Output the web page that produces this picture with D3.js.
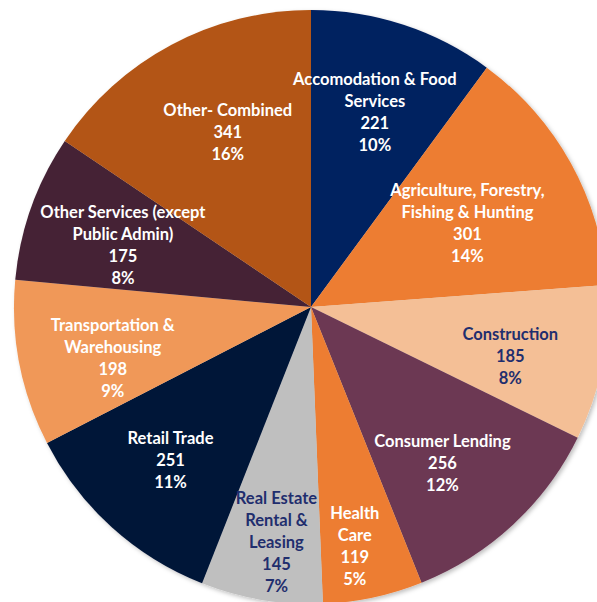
<!DOCTYPE html>
<html>
<head>
<meta charset="utf-8">
<script src="https://cdn.jsdelivr.net/npm/d3@7"></script>
<style>
  body { margin: 0; background: #fff; }
  svg { display: block; }
  .lbl { font-family: Lato, "Open Sans", sans-serif; font-weight: bold; font-size: 16.5px; }
</style>
</head>
<body>
<svg id="pie" width="597" height="602"></svg>
<script>
// sectors, clockwise from 12 o'clock
const categories = [
    ["Accomodation & Food", "Services"],
    ["Agriculture, Forestry,", "Fishing & Hunting"],
    ["Construction"],
    ["Consumer Lending"],
    ["Health", "Care"],
    ["Real Estate", "Rental &", "Leasing"],
    ["Retail Trade"],
    ["Transportation &", "Warehousing"],
    ["Other Services (except", "Public Admin)"],
    ["Other- Combined"]
];
const counts = [221, 301, 185, 256, 119, 145, 251, 198, 175, 341];
const percents = ["10%", "14%", "8%", "12%", "5%", "7%", "11%", "9%", "8%", "16%"];

const fills = ["#002060", "#ed7d31", "#f4bf96", "#6c3853", "#ed7d31",
               "#bfbfbf", "#011538", "#f09858", "#442234", "#b35413"];
const labelColors = ["#fff", "#fff", "#1f2e6e", "#fff", "#fff",
                     "#1f2e6e", "#fff", "#fff", "#fff", "#fff"];
// excel's "best fit" moved some labels around a bit
const labelRadius = {1: 172, 4: 243, 5: 237};
const labelNudge = {
    1: [6, 0], 2: [-2, 10], 3: [-8, 6], 4: [-7, 2], 5: [5, 2],
    6: [-3, 1], 7: [3, 12], 8: [5, 7], 9: [13, 6]
};

const svg = d3.select("#pie");
const cx = 311, cy = 307, R = 297;

const defs = svg.append("defs");
const shadow = defs.append("filter").attr("id", "shadow")
    .attr("x", "-10%").attr("y", "-10%").attr("width", "120%").attr("height", "120%");
shadow.append("feDropShadow")
    .attr("dx", 2).attr("dy", 2).attr("stdDeviation", 2)
    .attr("flood-color", "#000").attr("flood-opacity", 0.25);

const g = svg.append("g").attr("transform", `translate(${cx},${cy})`);

const pie = d3.pie().sort(null).value(d => d);
const arcs = pie(counts);
const arc = d3.arc().innerRadius(0).outerRadius(R);

const slices = g.append("g").attr("filter", "url(#shadow)");
slices.selectAll("path")
    .data(arcs)
    .enter().append("path")
    .attr("d", arc)
    .attr("fill", (d, i) => fills[i]);

const lineH = 22;
arcs.forEach((d, i) => {
    const r = labelRadius[i] || 205;
    const nudge = labelNudge[i] || [0, 0];
    const a = (d.startAngle + d.endAngle) / 2;
    const x = Math.sin(a) * r + nudge[0];
    const y = -Math.cos(a) * r + nudge[1];
    const lines = categories[i].concat([String(counts[i]), percents[i]]);
    const t = g.append("text")
        .attr("class", "lbl")
        .attr("fill", labelColors[i])
        .attr("text-anchor", "middle");
    const y0 = y - (lines.length - 1) * lineH / 2;
    lines.forEach((s, k) => {
        t.append("tspan")
            .attr("x", x)
            .attr("y", y0 + k * lineH)
            .attr("dy", "0.35em")
            .text(s);
    });
});
</script>
</body>
</html>
